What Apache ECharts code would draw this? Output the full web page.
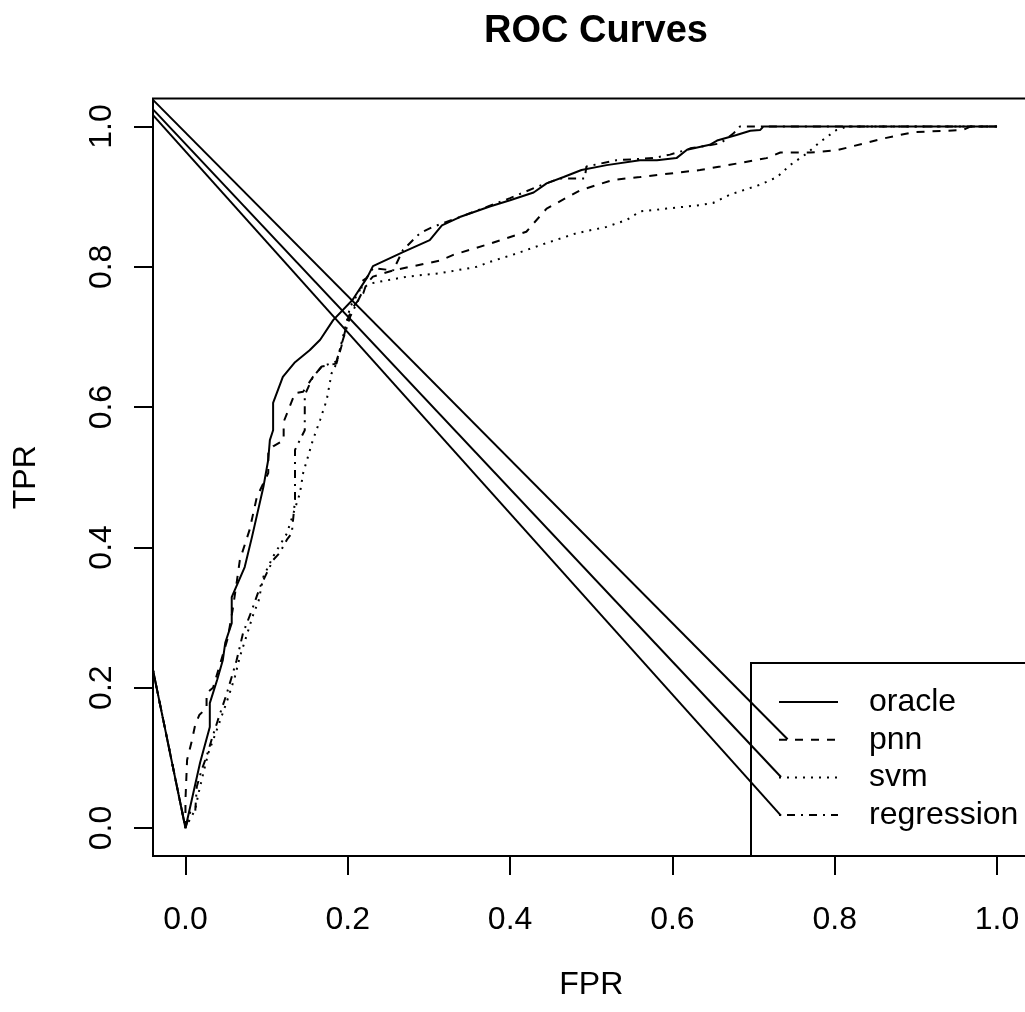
<!DOCTYPE html>
<html>
<head>
<meta charset="utf-8">
<script src="https://cdn.jsdelivr.net/npm/echarts@6/dist/echarts.min.js"></script>
<style>
html,body{margin:0;padding:0;background:#fff;}
#chart{width:1025px;height:1012px;}
</style>
</head>
<body>
<div id="chart"></div>
<script>
// ---- data (FPR, TPR) ----
const leadIn = [-0.04, 0.225];
const oracle = [[0,0],[0.018,0.093],[0.030,0.144],[0.030,0.178],[0.039,0.211],[0.046,0.239],[0.049,0.264],[0.057,0.292],[0.057,0.329],[0.073,0.372],[0.082,0.415],[0.096,0.486],[0.102,0.525],[0.104,0.553],[0.108,0.567],[0.108,0.606],[0.120,0.643],[0.135,0.664],[0.153,0.681],[0.166,0.696],[0.182,0.724],[0.206,0.753],[0.224,0.785],[0.231,0.801],[0.268,0.821],[0.301,0.838],[0.316,0.859],[0.338,0.871],[0.375,0.886],[0.400,0.895],[0.429,0.906],[0.445,0.919],[0.466,0.928],[0.488,0.938],[0.519,0.945],[0.560,0.952],[0.581,0.952],[0.605,0.955],[0.618,0.967],[0.646,0.974],[0.655,0.980],[0.679,0.988],[0.696,0.994],[0.708,0.995],[0.712,1.0],[1.0,1.0]];
const pnn = [[0,0],[0,0.040],[0.002,0.097],[0.008,0.125],[0.012,0.147],[0.017,0.161],[0.026,0.171],[0.026,0.192],[0.034,0.200],[0.043,0.235],[0.052,0.270],[0.058,0.310],[0.063,0.349],[0.067,0.382],[0.079,0.425],[0.088,0.472],[0.102,0.506],[0.102,0.534],[0.108,0.544],[0.121,0.553],[0.121,0.579],[0.135,0.620],[0.145,0.622],[0.157,0.643],[0.168,0.658],[0.186,0.662],[0.192,0.686],[0.201,0.729],[0.207,0.743],[0.219,0.762],[0.223,0.776],[0.231,0.786],[0.256,0.795],[0.289,0.803],[0.314,0.809],[0.330,0.817],[0.375,0.833],[0.420,0.850],[0.429,0.862],[0.445,0.883],[0.486,0.909],[0.527,0.924],[0.560,0.928],[0.634,0.938],[0.659,0.943],[0.716,0.955],[0.733,0.963],[0.770,0.963],[0.802,0.966],[0.860,0.983],[0.897,0.992],[0.958,0.995],[0.967,1.0],[1.0,1.0]];
const svm = [[0,0],[0.005,0.011],[0.012,0.026],[0.016,0.049],[0.022,0.078],[0.028,0.106],[0.034,0.125],[0.043,0.154],[0.053,0.187],[0.061,0.216],[0.067,0.244],[0.075,0.273],[0.084,0.306],[0.090,0.323],[0.096,0.358],[0.108,0.387],[0.125,0.420],[0.141,0.477],[0.145,0.506],[0.157,0.553],[0.166,0.582],[0.174,0.610],[0.180,0.648],[0.186,0.662],[0.190,0.681],[0.194,0.700],[0.199,0.724],[0.203,0.743],[0.215,0.767],[0.227,0.776],[0.240,0.779],[0.273,0.786],[0.314,0.791],[0.359,0.800],[0.375,0.807],[0.408,0.819],[0.445,0.834],[0.482,0.848],[0.519,0.857],[0.544,0.867],[0.560,0.879],[0.593,0.883],[0.634,0.888],[0.650,0.891],[0.671,0.903],[0.708,0.917],[0.729,0.928],[0.745,0.945],[0.766,0.962],[0.782,0.978],[0.802,0.995],[0.815,1.0],[1.0,1.0]];
const regression = [[0,0],[0.006,0.023],[0.012,0.023],[0.014,0.059],[0.020,0.083],[0.026,0.102],[0.032,0.125],[0.040,0.154],[0.051,0.192],[0.063,0.239],[0.071,0.278],[0.082,0.311],[0.092,0.344],[0.100,0.363],[0.108,0.382],[0.116,0.392],[0.125,0.411],[0.131,0.420],[0.135,0.468],[0.135,0.539],[0.137,0.544],[0.147,0.567],[0.147,0.617],[0.157,0.643],[0.168,0.658],[0.186,0.665],[0.194,0.696],[0.203,0.729],[0.211,0.748],[0.217,0.762],[0.217,0.779],[0.223,0.784],[0.231,0.798],[0.256,0.795],[0.268,0.824],[0.289,0.848],[0.305,0.857],[0.338,0.871],[0.400,0.898],[0.433,0.914],[0.461,0.926],[0.492,0.926],[0.494,0.943],[0.531,0.952],[0.576,0.955],[0.597,0.960],[0.618,0.967],[0.622,0.969],[0.659,0.976],[0.675,0.990],[0.683,1.0],[1.0,1.0]];
// stray straight segments visible in the plot
const strayPnn = [[-0.04,1.038],[0.742,0.1264]];
const straySvm = [[-0.04,1.0245],[0.7338,0.0727]];
const strayReg = [[-0.04,1.0164],[0.7338,0.0175]];
const tickValues = [0, 0.2, 0.4, 0.6, 0.8, 1.0];
const seriesNames = ['oracle', 'pnn', 'svm', 'regression'];

const FONT = "'Liberation Sans', Arial, Helvetica, sans-serif";
const LW = 2;
const dashTypes = {
  oracle: 'solid',
  pnn: [8, 8],
  svm: [2, 6],
  regression: [2, 6, 8, 6]
};
const curves = { oracle, pnn, svm, regression };

const chart = echarts.init(document.getElementById('chart'), null, { renderer: 'canvas' });

const series = seriesNames.map(n => ({
  name: n,
  type: 'line',
  data: [leadIn].concat(curves[n]),
  showSymbol: false,
  symbol: 'none',
  clip: true,
  lineStyle: { color: '#000', width: LW, type: dashTypes[n] },
  itemStyle: { color: '#000' },
  emphasis: { disabled: true }
}));
[strayPnn, straySvm, strayReg].forEach((d, i) => {
  series.push({
    name: 'stray' + i,
    type: 'line',
    data: d,
    showSymbol: false,
    symbol: 'none',
    clip: true,
    lineStyle: { color: '#000', width: LW, type: 'solid' },
    emphasis: { disabled: true }
  });
});

const axisCommon = {
  type: 'value',
  min: -0.04,
  max: 1.04,
  splitLine: { show: false },
  axisLine: { show: false, onZero: false },
  axisTick: { show: true, inside: false, length: 19, customValues: tickValues, lineStyle: { color: '#000', width: LW } },
  axisLabel: { customValues: tickValues, color: '#000', fontSize: 32, fontFamily: FONT, formatter: v => v.toFixed(1) },
  nameLocation: 'middle',
  nameTextStyle: { color: '#000', fontSize: 32, fontFamily: FONT }
};

chart.setOption({
  animation: false,
  backgroundColor: '#fff',
  title: {
    text: 'ROC Curves',
    left: 591,
    textAlign: 'center',
    top: 8,
    textStyle: { color: '#000', fontSize: 38, fontWeight: 'bold', fontFamily: FONT }
  },
  grid: {
    left: 153, top: 98.5, width: 876.5, height: 757.5,
    show: true, borderColor: '#000', borderWidth: LW, backgroundColor: 'transparent',
    containLabel: false,
    outerBoundsMode: 'none'
  },
  xAxis: Object.assign({}, axisCommon, {
    name: 'FPR', nameGap: 113,
    axisLabel: Object.assign({}, axisCommon.axisLabel, { margin: 48 })
  }),
  yAxis: Object.assign({}, axisCommon, {
    name: 'TPR', nameGap: 111,
    axisLabel: Object.assign({}, axisCommon.axisLabel, { margin: 35, rotate: 90 })
  }),
  legend: {
    data: seriesNames,
    orient: 'vertical',
    left: 751,
    top: 663,
    padding: [23, 20, 25, 27],
    itemGap: 5.7,
    itemWidth: 59,
    itemHeight: 14,
    borderWidth: 0,
    backgroundColor: 'transparent',
    selectedMode: false,
    itemStyle: { opacity: 0 },
    textStyle: { color: '#000', fontSize: 32, fontFamily: FONT, lineHeight: 32, padding: [0, 0, 0, 26] }
  },
  graphic: [{
    type: 'polyline',
    shape: { points: [[1060, 663], [751, 663], [751, 856], [1060, 856]] },
    style: { fill: 'none', stroke: '#000', lineWidth: LW },
    silent: true,
    z: 10
  }],
  series: series
});
</script>
</body>
</html>
